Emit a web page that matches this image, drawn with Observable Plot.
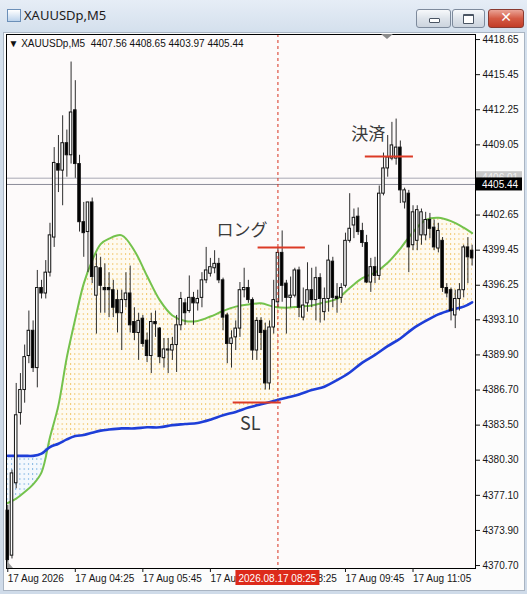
<!DOCTYPE html>
<html><head><meta charset="utf-8">
<script src="https://cdn.jsdelivr.net/npm/d3@7"></script>
<script src="https://cdn.jsdelivr.net/npm/@observablehq/plot@0.6"></script>
<style>
html,body{margin:0;padding:0;background:#d6e1ed;}
#win{position:relative;width:527px;height:594px;overflow:hidden;background:linear-gradient(to bottom,#e6edf6 0,#d4e0ed 32px,#cfdbe9 100%);}
#icon{position:absolute;left:7px;top:9px;width:12px;height:11px;border:1px solid #6b8fb8;background:linear-gradient(#ffffff,#bcd3ec);}
#title{position:absolute;left:24px;top:6px;font:13px "Noto Sans","Open Sans",sans-serif;color:#1b1b1b;}
.btn{position:absolute;top:9px;height:17px;border:1px solid #7d8a9c;border-radius:3px;background:linear-gradient(#f7f9fb,#dde3ea 50%,#ccd4de);}
#bmin{left:416px;width:33px;}
#bmax{left:452px;width:31px;}
#bclose{left:488px;width:34px;border-color:#8a3a30;background:linear-gradient(#eaa396,#d45a44 50%,#c23d27);}
#bmin i{position:absolute;left:12px;top:8px;width:9px;height:3px;border:1px solid #4a5563;background:#fff;border-radius:1px;}
#bmax i{position:absolute;left:10px;top:4px;width:9px;height:7px;border:1px solid #4a5563;border-top-width:2px;background:#fff;border-radius:1px;}
#bclose span{position:absolute;left:0;top:-1px;width:34px;text-align:center;font:bold 14px "DejaVu Sans",sans-serif;color:#fff;}
#panel{position:absolute;left:3px;top:32px;width:520px;height:557px;background:#fcfcfc;border:1px solid #a9b4c2;}
#chart{position:absolute;left:0;top:33px;}
</style></head>
<body>
<div id="win">
  <div id="icon"></div>
  <div id="title">XAUUSDp,M5</div>
  <div class="btn" id="bmin"><i></i></div>
  <div class="btn" id="bmax"><i></i></div>
  <div class="btn" id="bclose"><span>✕</span></div>
  <div id="panel"></div>
  <div id="chart"></div>
</div>
<script>
// ---- data ----
const symbolHeader = "▼ XAUUSDp,M5\u00a0\u00a04407.56 4408.65 4403.97 4405.44";
const open = [4375.7,4371.6,4378.2,4384.6,4386.7,4389.8,4392.1,4388.7,4396.0,4395.5,
 4397.4,4400.6,4407.3,4406.7,4409.2,4408.1,4412.2,4407.3,4402.0,4401.1,
 4403.8,4395.3,4397.8,4396.0,4396.0,4395.8,4394.9,4393.7,4394.9,4395.5,
 4392.9,4391.9,4393.2,4391.2,4389.8,4392.9,4392.3,4389.6,4390.3,4390.3,
 4390.8,4392.6,4394.6,4393.9,4395.1,4394.6,4395.1,4396.7,4397.3,4397.8,
 4398.2,4396.7,4393.5,4390.9,4391.5,4392.3,4395.8,4396.0,4394.9,4390.3,
 4393.0,4392.1,4387.3,4392.4,4394.7,4399.2,4396.4,4395.1,4395.3,4397.6,
 4393.3,4394.6,4395.8,4394.9,4396.9,4393.8,4395.0,4398.4,4395.2,4395.1,
 4396.2,4400.3,4401.7,4402.5,4401.2,4400.1,4396.5,4397.9,4397.1,4404.6,
 4406.9,4407.8,4407.8,4408.8,4403.8,4404.6,4399.9,4400.3,4400.8,4400.8,
 4402.2,4401.5,4399.6,4400.3,4396.0,4395.8,4393.5,4395.0,4395.8,4399.7,
 4399.4];
const high = [4376.2,4379.4,4387.3,4388.2,4390.8,4393.9,4393.0,4397.6,4396.7,4398.5,
 4401.9,4408.8,4409.9,4411.7,4410.4,4416.6,4414.9,4408.1,4403.8,4403.8,
 4404.2,4399.1,4398.8,4398.2,4397.4,4396.7,4395.8,4395.8,4397.4,4398.0,
 4394.2,4393.7,4393.5,4391.9,4393.7,4393.9,4392.4,4391.4,4391.4,4391.5,
 4393.5,4395.6,4395.0,4397.1,4395.6,4395.8,4397.4,4399.7,4398.7,4399.4,
 4398.7,4396.9,4393.7,4392.1,4393.0,4396.5,4397.8,4396.7,4395.1,4393.3,
 4393.3,4392.8,4393.0,4396.7,4399.7,4401.2,4396.7,4397.0,4397.8,4397.9,
 4396.0,4398.3,4397.8,4397.9,4397.3,4396.0,4399.9,4398.8,4396.4,4396.4,
 4401.0,4404.6,4403.2,4403.3,4401.9,4400.8,4398.7,4398.8,4405.3,4408.3,
 4409.9,4411.1,4411.4,4409.4,4405.1,4404.9,4403.5,4403.5,4403.2,4402.9,
 4402.8,4402.2,4401.9,4400.6,4396.4,4396.0,4395.8,4396.4,4399.9,4400.6,
 4399.9];
const low = [4370.9,4371.3,4377.7,4383.5,4385.5,4389.1,4388.3,4386.9,4395.0,4395.0,
 4397.0,4399.7,4404.7,4403.5,4406.1,4407.3,4406.0,4401.1,4398.8,4397.4,
 4396.4,4391.8,4393.7,4393.7,4393.3,4393.3,4391.9,4390.3,4394.2,4391.9,
 4391.2,4389.4,4390.6,4389.2,4388.2,4391.5,4389.1,4388.7,4388.2,4389.4,
 4388.3,4392.1,4392.6,4393.7,4392.6,4393.9,4394.2,4396.4,4397.0,4397.3,
 4396.4,4392.1,4389.1,4388.7,4390.3,4391.5,4395.1,4394.6,4389.4,4389.4,
 4390.3,4386.7,4386.7,4391.8,4394.2,4394.7,4391.8,4394.2,4395.1,4393.3,
 4393.0,4393.8,4394.2,4393.0,4392.8,4393.0,4393.8,4394.2,4393.7,4394.6,
 4396.0,4400.1,4400.5,4400.8,4399.7,4396.4,4395.6,4396.4,4396.7,4404.4,
 4406.1,4407.6,4407.2,4403.7,4403.2,4397.4,4399.4,4399.4,4399.9,4400.3,
 4400.5,4399.4,4399.2,4395.6,4395.1,4393.0,4392.3,4393.9,4395.1,4396.4,
 4398.0];
const close = [4371.2,4379.1,4384.4,4386.7,4389.7,4392.1,4388.7,4396.0,4395.5,4397.4,
 4400.8,4407.4,4406.7,4409.2,4408.1,4412.0,4407.3,4402.0,4401.0,4403.8,
 4397.0,4397.9,4396.2,4395.8,4395.8,4394.2,4393.7,4394.9,4395.5,4392.6,
 4391.9,4393.0,4390.9,4389.8,4392.9,4392.7,4389.7,4390.4,4390.4,4390.8,
 4392.6,4395.0,4393.7,4395.1,4394.6,4395.0,4396.7,4397.6,4397.9,4398.2,
 4396.7,4393.3,4390.9,4391.4,4392.3,4395.8,4396.0,4394.9,4390.3,4393.0,
 4391.9,4387.3,4392.4,4394.9,4399.2,4396.2,4395.1,4395.3,4397.6,4394.2,
 4394.4,4395.8,4394.9,4396.9,4395.0,4395.0,4398.5,4395.1,4395.0,4396.0,
 4400.3,4401.4,4402.4,4401.1,4400.1,4396.5,4397.9,4397.1,4404.6,4406.9,
 4407.9,4409.0,4408.8,4404.9,4404.9,4399.7,4402.9,4403.1,4402.9,4402.2,
 4401.4,4399.7,4401.2,4396.0,4395.5,4393.9,4395.0,4395.8,4399.7,4398.8,
 4398.7];
// moving averages read at these bar indices
const maBars = [0,2,4,6,8,10,12,14,16,18,20,22,24,27,30,33,36,39,42,45,48,51,54,57,60,63,66,69,72,75,78,81,84,87,90,93,96,99,102,105,108,110];
const fastMA = [4376.4,4376.8,4377.4,4378.1,4379.2,4382.4,4385.3,4389.7,4393.2,4396.4,
 4398.5,4400.0,4400.5,4400.8,4399.4,4397.1,4394.9,4393.5,4393.0,4393.0,
 4393.4,4393.9,4394.3,4394.5,4394.6,4394.3,4394.2,4394.3,4394.4,4394.7,
 4395.0,4396.0,4396.9,4397.4,4398.3,4399.6,4401.1,4402.2,4402.4,4402.1,
 4401.5,4401.0];
const slowMA = [4380.7,4380.7,4380.7,4380.7,4380.9,4381.5,4381.8,4382.2,4382.5,4382.6,
 4382.8,4383.0,4383.1,4383.2,4383.2,4383.3,4383.3,4383.5,4383.6,4383.7,
 4384.0,4384.4,4384.7,4385.1,4385.4,4385.7,4386.0,4386.3,4386.7,4387.0,
 4387.6,4388.3,4389.2,4389.9,4390.7,4391.4,4392.3,4393.0,4393.6,4394.0,
 4394.3,4394.7];
const xTickBars = [0,16,32,48,64,80,96];
const xTickLabels = ["17 Aug 2026","17 Aug 04:25","17 Aug 05:45","17 Aug 07:05","17 Aug 08:25","17 Aug 09:45","17 Aug 11:05"];
const yTicks = [4418.65,4415.45,4412.25,4409.05,4402.65,4399.45,4396.25,4393.10,4389.90,4386.70,4383.50,4380.30,4377.10,4373.90,4370.70];
const askPrice = 4406.01, bidPrice = 4405.44;
const cursorBar = 64, cursorLabel = "2026.08.17 08:25";
const tradeLabels = ["ロング","決済","SL"];
const tradePrices = [4399.69,4407.98,4385.56];
const tradeFrom = [59.3,84.7,53.4];
const tradeTo = [70.5,96.1,64.8];

// ---- build ----
const bars = open.map((o,i)=>({i,o,h:high[i],l:low[i],c:close[i]}));
const ma = maBars.map((b,k)=>({i:b,g:fastMA[k],s:slowMA[k]}));
const trades = tradeLabels.map((t,k)=>({label:t,price:tradePrices[k],from:tradeFrom[k],to:tradeTo[k]}));
const labelMap = new Map(xTickBars.map((b,k)=>[b,xTickLabels[k]]));
const cjk = '"Noto Sans CJK JP", "Noto Sans", sans-serif';
const sans = '"Liberation Sans", Arial, sans-serif';

const plot = Plot.plot({
  width: 527, height: 561,
  marginLeft: 6, marginRight: 52, marginTop: 1, marginBottom: 26,
  style: {background:"transparent", fontFamily:sans, fontSize:"10px", color:"#161616", overflow:"visible"},
  x: {domain:[-0.3,110.8], axis:null},
  y: {domain:[4370.43,4419.11], axis:null},
  marks: [
    Plot.frame({fill:"#fdfafa", stroke:"none"}),
    Plot.areaY(ma, {x:"i", y1:"s", y2:d=>Math.max(d.g,d.s), fill:"url(#dotY)", curve:"catmull-rom"}),
    Plot.areaY(ma, {x:"i", y1:"g", y2:d=>Math.max(d.g,d.s), fill:"url(#dotB)", curve:"catmull-rom"}),
    Plot.line(ma, {x:"i", y:"g", stroke:"#74c24c", strokeWidth:2, curve:"catmull-rom"}),
    Plot.line(ma, {x:"i", y:"s", stroke:"#1e3ed8", strokeWidth:2.6, curve:"catmull-rom"}),
    Plot.ruleY([askPrice], {stroke:"#a8a8b4", strokeWidth:1}),
    Plot.ruleY([bidPrice], {stroke:"#8c8c98", strokeWidth:1}),
    Plot.ruleX(bars, {x:"i", y1:"l", y2:"h", stroke:"#2e2e2e", strokeWidth:1}),
    Plot.rect(bars, {x1:d=>d.i-0.3, x2:d=>d.i+0.3, y1:"o", y2:"c", fill:d=>d.c>=d.o?"#ffffff":"#000000", stroke:"#111", strokeWidth:1}),
    Plot.ruleX([cursorBar], {stroke:"#d8311e", strokeWidth:1, strokeDasharray:"3,3"}),
    Plot.ruleY(trades, {y:"price", x1:"from", x2:"to", stroke:"#dc3a26", strokeWidth:2}),
    Plot.text(trades.filter(d=>d.label==="ロング"), {x:"from", y:"price", text:"label", dx:-16, dy:-17, fontSize:17, fontFamily:cjk, fill:"#3a3a3a"}),
    Plot.text(trades.filter(d=>d.label==="決済"), {x:"from", y:"price", text:"label", dx:3, dy:-22, fontSize:17, fontFamily:cjk, fill:"#3a3a3a"}),
    Plot.text(trades.filter(d=>d.label==="SL"), {x:"from", y:"price", text:"label", dx:17, dy:22, fontSize:18, fontFamily:cjk, fill:"#3a3a3a"}),
    Plot.text([symbolHeader], {frameAnchor:"top-left", dx:2, dy:5, textAnchor:"start", lineAnchor:"top", fontSize:10, fill:"#111"}),
    Plot.frame({stroke:"#000", strokeWidth:1}),
    Plot.axisY(yTicks, {anchor:"right", tickSize:4, tickPadding:3, tickFormat:d=>d.toFixed(2), fontSize:10, label:null}),
    Plot.axisX(xTickBars, {anchor:"bottom", tickSize:4, tickPadding:2, tickFormat:d=>labelMap.get(d), textAnchor:"start", fontSize:10, label:null})
  ]
});
document.getElementById("chart").appendChild(plot);

const xs = plot.scale("x"), ys = plot.scale("y");
const svg = d3.select(plot);
const bw = xs.apply(1) - xs.apply(0);
const x0 = xs.apply(0) - 0.5;
const defs = svg.insert("defs", ":first-child");
function pat(id, bg, dot){
  const p = defs.append("pattern").attr("id", id).attr("patternUnits","userSpaceOnUse")
    .attr("width", bw).attr("height", 5).attr("x", x0).attr("y", 0);
  p.append("rect").attr("width", bw).attr("height", 5).attr("fill", bg);
  p.append("rect").attr("x", 0).attr("y", 0).attr("width", 1).attr("height", 2).attr("fill", dot);
}
pat("dotY", "#fefaf0", "#f3cc78");
pat("dotB", "#f3f8fd", "#8fbde6");

// right-side price labels (drawn on top of everything)
const right = 476;
const overlay = svg.append("g");
function priceBox(v, bg, fg){
  const yy = ys.apply(v);
  overlay.append("rect").attr("x", right).attr("y", yy-6.5).attr("width", 46).attr("height", 13).attr("fill", bg);
  overlay.append("text").attr("x", right+6).attr("y", yy+3.6).attr("fill", fg).attr("text-anchor","start")
    .attr("font-size", 10).attr("font-family", sans).text(v.toFixed(2));
}
priceBox(askPrice, "#c9c9c9", "#f2f2f2");
priceBox(bidPrice, "#000000", "#ffffff");

// cursor time label under the axis
const cx = xs.apply(cursorBar);
const by = 561 - 26;
overlay.append("rect").attr("x", cx-42).attr("y", by+2).attr("width", 84).attr("height", 15).attr("fill", "#dd2a1a");
overlay.append("text").attr("x", cx).attr("y", by+13.5).attr("text-anchor","middle").attr("fill","#fff")
  .attr("font-size", 10).attr("font-family", sans).text(cursorLabel);

// chart-shift marker and corner marker
overlay.append("path").attr("d", "M381,1 L393,1 L387,6 Z").attr("fill", "#8a8a8a");
overlay.append("path").attr("d", "M7,528 L7,535 L13,535 Z").attr("fill", "#9a9a9a");
</script>
</body></html>
